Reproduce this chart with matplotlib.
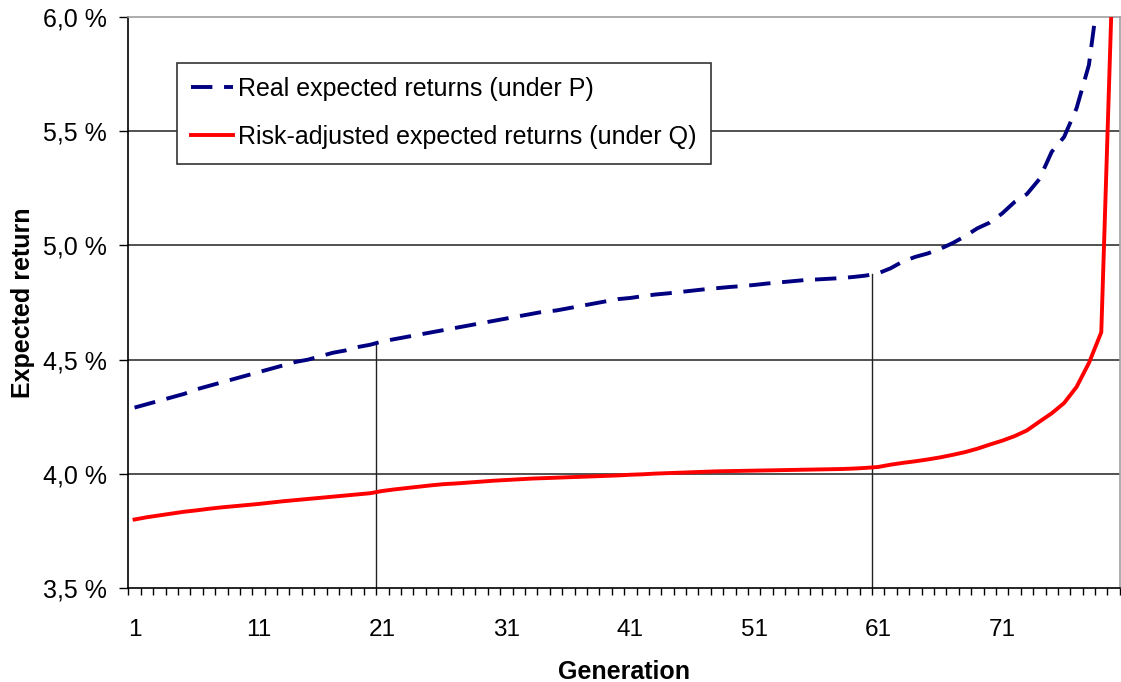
import numpy as np
import matplotlib
matplotlib.use("Agg")
import matplotlib.pyplot as plt
from matplotlib.ticker import FixedLocator, FuncFormatter

plt.rcParams['font.family'] = ['Liberation Sans', 'DejaVu Sans']

# generations 1..80
generation = np.arange(1, 81)

# expected returns in percent
real_p = [4.29, 4.305, 4.32, 4.335, 4.35, 4.37, 4.385, 4.40, 4.415, 4.43,
          4.445, 4.46, 4.475, 4.49, 4.50, 4.515, 4.53, 4.54, 4.555, 4.565,
          4.58, 4.59, 4.60, 4.61, 4.62, 4.63, 4.64, 4.65, 4.66, 4.67,
          4.68, 4.69, 4.70, 4.71, 4.715, 4.725, 4.735, 4.745, 4.755, 4.765,
          4.77, 4.778, 4.785, 4.79, 4.796, 4.802, 4.808, 4.813, 4.818, 4.822,
          4.827, 4.833, 4.838, 4.843, 4.848, 4.851, 4.854, 4.857, 4.862, 4.868,
          4.878, 4.90, 4.93, 4.95, 4.965, 4.985, 5.01, 5.04, 5.075, 5.10,
          5.14, 5.19, 5.225, 5.29, 5.41, 5.475, 5.60, 5.79, 6.2, 7.2]

risk_q = [3.80, 3.81, 3.818, 3.826, 3.834, 3.84, 3.847, 3.853, 3.858, 3.863,
          3.868, 3.874, 3.88, 3.885, 3.89, 3.895, 3.90, 3.905, 3.91, 3.915,
          3.925, 3.932, 3.938, 3.944, 3.95, 3.955, 3.958, 3.962, 3.966, 3.97,
          3.973, 3.976, 3.979, 3.981, 3.983, 3.985, 3.987, 3.989, 3.991, 3.993,
          3.996, 3.998, 4.001, 4.003, 4.005, 4.007, 4.009, 4.011, 4.012, 4.013,
          4.014, 4.015, 4.016, 4.017, 4.018, 4.019, 4.02, 4.021, 4.023, 4.026,
          4.03, 4.04, 4.048, 4.055, 4.063, 4.072, 4.083, 4.095, 4.11, 4.128,
          4.145, 4.165, 4.19, 4.228, 4.265, 4.31, 4.38, 4.485, 4.62, 6.35]

label_gens = [1, 11, 21, 31, 41, 51, 61, 71]
marker_gens = [20.5, 60.5]   # drop lines under the blue curve

fig = plt.figure(figsize=(11.21, 6.82), dpi=100)
ax = fig.add_axes([0.1145, 0.1378, 0.8845, 0.8372])

# horizontal grid
for yv in [4.0, 4.5, 5.0, 5.5]:
    ax.axhline(yv, color='#333333', lw=1.2, zorder=1)

# vertical drop lines up to the blue curve
for g in marker_gens:
    top = np.interp(g, generation, real_p)
    ax.plot([g, g], [3.5, top], color='#222222', lw=1.0, zorder=1)

ax.plot(generation, real_p, color='#000080', lw=2.8, dashes=(5.5, 3),
        label='Real expected returns (under P)', zorder=3)
ax.plot(generation, risk_q, color='#FF0000', lw=2.8,
        label='Risk-adjusted expected returns (under Q)', zorder=3)

ax.set_xlim(0.5, 80.5)
ax.set_ylim(3.5, 6.0)

# x axis: labels at generations, tick marks between them
ax.xaxis.set_major_locator(FixedLocator(label_gens))
ax.xaxis.set_minor_locator(FixedLocator(np.arange(0.5, 81, 1)))
ax.tick_params(axis='x', which='major', length=0, pad=22, labelsize=17.5)
ax.tick_params(axis='x', which='minor', length=5, width=1.0, direction='out', color='black')

ax.set_yticks([3.5, 4.0, 4.5, 5.0, 5.5, 6.0])
ax.yaxis.set_major_formatter(FuncFormatter(lambda v, p: ('%.1f %%' % v).replace('.', ',')))
ax.tick_params(axis='y', length=6.5, width=1.0, direction='out', pad=9, labelsize=18)

for s in ['top', 'right']:
    ax.spines[s].set_color('#a0a0a0')
    ax.spines[s].set_linewidth(1.2)
for s in ['left', 'bottom']:
    ax.spines[s].set_color('black')
    ax.spines[s].set_linewidth(1.2)

ax.set_xlabel('Generation', fontsize=18, fontweight='bold')
ax.xaxis.set_label_coords(0.5, -0.126)
ax.set_ylabel('Expected return', fontsize=18, fontweight='bold')
ax.yaxis.set_label_coords(-0.094, 0.5)

leg = ax.legend(loc='upper left', bbox_to_anchor=(0.049, 0.92), fontsize=18,
                frameon=True, fancybox=False, edgecolor='#333333', framealpha=1,
                handlelength=1.66, handletextpad=0.2, labelspacing=0.96,
                borderpad=0.58, borderaxespad=0)
leg.get_frame().set_linewidth(1.2)

fig.savefig('out.png', dpi=100)
